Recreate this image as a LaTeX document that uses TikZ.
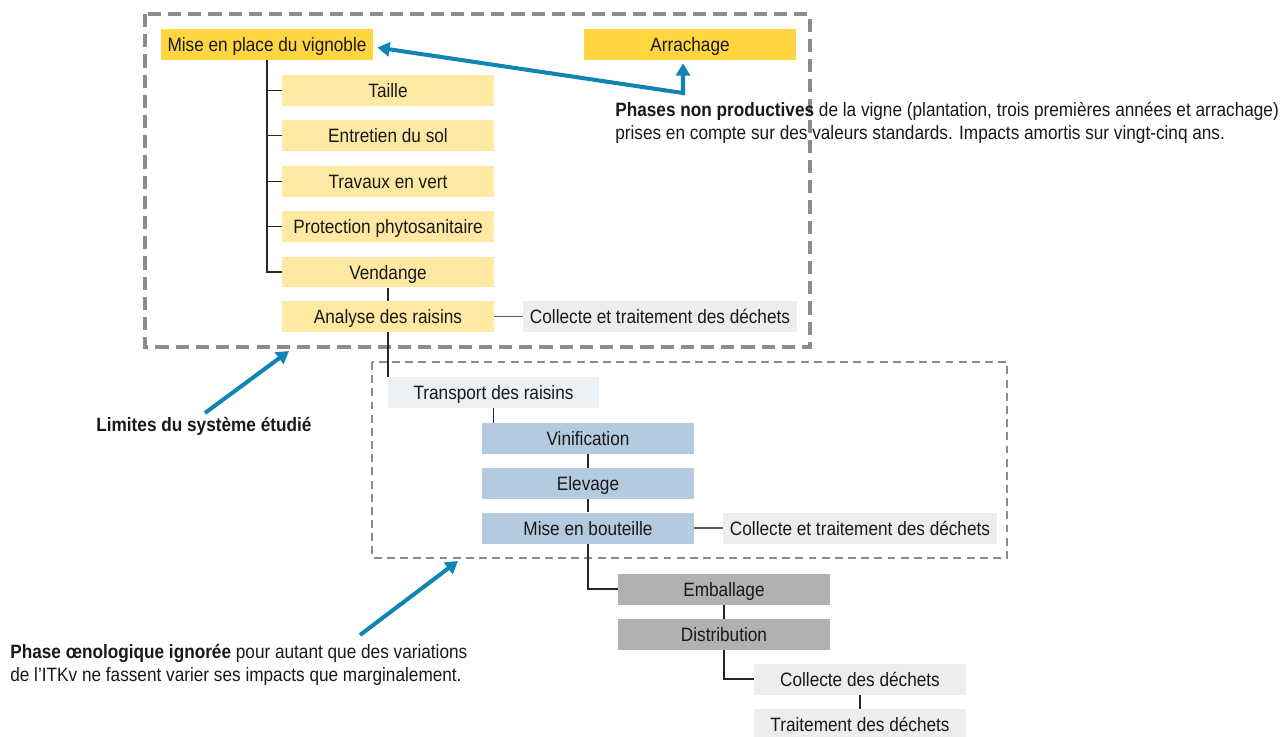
\documentclass[tikz,border=0pt]{standalone}
\usepackage{fontspec}
\setmainfont{Liberation Sans}[FakeStretch=0.89]
\usetikzlibrary{arrows.meta}
\definecolor{phaseyel}{RGB}{255,214,64}
\definecolor{subyel}{RGB}{254,233,162}
\definecolor{wastegray}{RGB}{236,237,238}
\definecolor{transpblue}{RGB}{235,240,245}
\definecolor{wineblue}{RGB}{180,202,222}
\definecolor{distgray}{RGB}{177,177,177}
\definecolor{arrowblue}{RGB}{16,132,178}
\definecolor{limitgray}{RGB}{140,140,140}

\begin{document}
\begin{tikzpicture}[x=0.02cm,y=-0.02cm,font=\fontsize{11}{13}\selectfont,
  box/.style={minimum width=4.24cm,minimum height=0.62cm,inner sep=0pt,text height=8pt,text depth=0pt,text=black!90},
  phasebox/.style={box,fill=phaseyel},
  subbox/.style={box,fill=subyel},
  wastebox/.style={box,fill=wastegray,minimum width=5.48cm},
  transpbox/.style={box,fill=transpblue},
  winebox/.style={box,fill=wineblue},
  distbox/.style={box,fill=distgray},
  litebox/.style={box,fill=wastegray},
  link/.style={draw=black!85,line width=0.7pt},
  wastelink/.style={draw=black!65,line width=0.7pt},
  note/.style={align=left,inner sep=0pt,text=black!90},
  callout/.style={draw=arrowblue,line width=2.3pt,{Triangle[length=7pt,width=8pt]}-{Triangle[length=7pt,width=8pt]}},
  pointer/.style={draw=arrowblue,line width=2.3pt,-{Triangle[length=7pt,width=8pt]}}]
\useasboundingbox (0,0) rectangle (1285,737);

% system limits
\draw[limitgray,line width=2.3pt,dash pattern=on 7.5pt off 4pt] (145,14) rectangle (810,347);
\draw[limitgray,line width=0.8pt,dash pattern=on 4.5pt off 3pt] (372,362) rectangle (1007,558);

% vineyard phase
\node[phasebox] (mise) at (267,44.5) {Mise en place du vignoble};
\node[phasebox] (arrach) at (690,44.5) {Arrachage};
\node[subbox] (taille) at (388,90.5) {Taille};
\node[subbox] (entretien) at (388,135.8) {Entretien du sol};
\node[subbox] (travaux) at (388,181.2) {Travaux en vert};
\node[subbox] (protect) at (388,226.6) {Protection phytosanitaire};
\node[subbox] (vendange) at (388,272) {Vendange};
\node[subbox] (analyse) at (388,316.5) {Analyse des raisins};
\node[wastebox] (collecte1) at (660,316.5) {Collecte et traitement des déchets};

% winery phase
\node[transpbox] (transport) at (493.5,392.5) {Transport des raisins};
\node[winebox] (vinif) at (588,438.5) {Vinification};
\node[winebox] (elevage) at (588,483.5) {Elevage};
\node[winebox] (bouteille) at (588,528) {Mise en bouteille};
\node[wastebox] (collecte2) at (860,528) {Collecte et traitement des déchets};

% downstream
\node[distbox] (emball) at (724,589) {Emballage};
\node[distbox] (distrib) at (724,634.5) {Distribution};
\node[litebox] (collecte3) at (860,679) {Collecte des déchets};
\node[litebox] (traitement) at (860,724.5) {Traitement des déchets};

% tree links
\draw[link] (mise.south) |- (vendange.west);
\foreach \n in {taille,entretien,travaux,protect}
  \draw[link] (mise.south |- \n.west) -- (\n.west);
\draw[link] (vendange) -- (analyse);
\draw[link] (analyse.south) -- (analyse.south |- transport.north);
\draw[link] (transport.south) -- (transport.south |- vinif.north);
\draw[link] (vinif) -- (elevage);
\draw[link] (elevage) -- (bouteille);
\draw[link] (bouteille.south) |- (emball.west);
\draw[link] (emball) -- (distrib);
\draw[link] (distrib.south) |- (collecte3.west);
\draw[link] (collecte3) -- (traitement);
\draw[wastelink] (analyse) -- (collecte1);
\draw[wastelink] (bouteille) -- (collecte2);

% notes
\node[note,anchor=north west] (phasesnote) at (615,102) {\textbf{Phases non productives} de la vigne (plantation, trois premières années et arrachage)\\prises en compte sur des valeurs standards. Impacts amortis sur vingt-cinq ans.};
\node[note,anchor=west] (limitnote) at (96,426) {\textbf{Limites du système étudié}};
\node[note,anchor=north west] (oenonote) at (10,644) {\textbf{Phase œnologique ignorée} pour autant que des variations\\de l’ITKv ne fassent varier ses impacts que marginalement.};

% callouts
\coordinate (bend) at (683,93);
\coordinate (limtail) at (205,413);
\coordinate (limtip) at (289,351);
\coordinate (oenotail) at (360,635);
\coordinate (oenotip) at (458,561);
\draw[callout] ([xshift=0.08cm,yshift=-0.06cm]mise.east) -- (bend) -- ([yshift=-0.06cm]bend |- arrach.south);
\draw[pointer] (limtail) -- (limtip);
\draw[pointer] (oenotail) -- (oenotip);
\end{tikzpicture}
\end{document}
